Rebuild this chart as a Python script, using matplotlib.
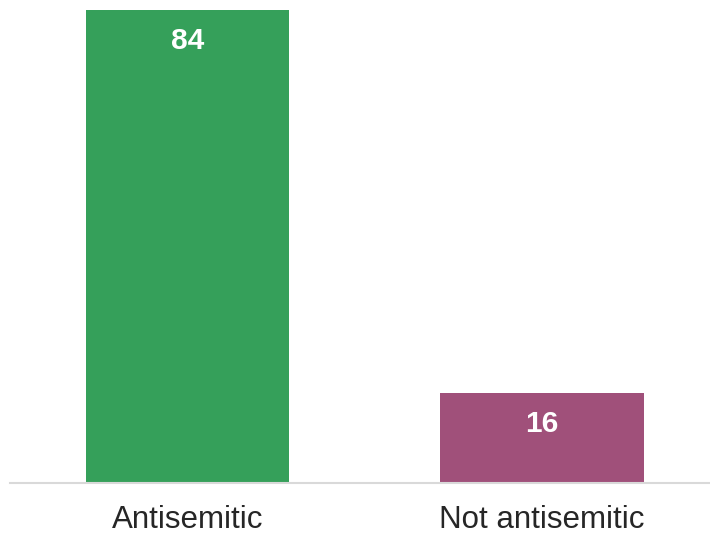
import matplotlib
matplotlib.use('Agg')
import matplotlib.pyplot as plt

# chart data
categories = ['Antisemitic', 'Not antisemitic']
values = [84, 16]
colors = ['#35a05a', '#a0507a']

plt.rcParams['font.family'] = ['Liberation Sans', 'DejaVu Sans']

fig = plt.figure(figsize=(7.1, 5.35), dpi=100)
ax = fig.add_axes([10 / 710, 52 / 535, 700 / 710, 473 / 535])

x = list(range(len(categories)))
bars = ax.bar(x, values, width=0.573, color=colors)

# value labels inside the bars, near the top
for b, v in zip(bars, values):
    ax.annotate(str(v), (b.get_x() + b.get_width() / 2, v),
                xytext=(0, -22.5), textcoords='offset points',
                ha='center', va='center', color='white',
                fontsize=21.5, fontweight='bold')

ax.set_xlim(-0.5, 1.474)
ax.set_ylim(0, 84)
ax.set_xticks(x)
ax.set_xticklabels(categories, fontsize=22.5, color='#262626')
ax.tick_params(axis='x', length=0, pad=16)
ax.set_yticks([])
for side in ['top', 'right', 'left']:
    ax.spines[side].set_visible(False)
ax.spines['bottom'].set_color('#d9d9d9')
ax.spines['bottom'].set_linewidth(1.5)

fig.savefig('out.png', dpi=100)
